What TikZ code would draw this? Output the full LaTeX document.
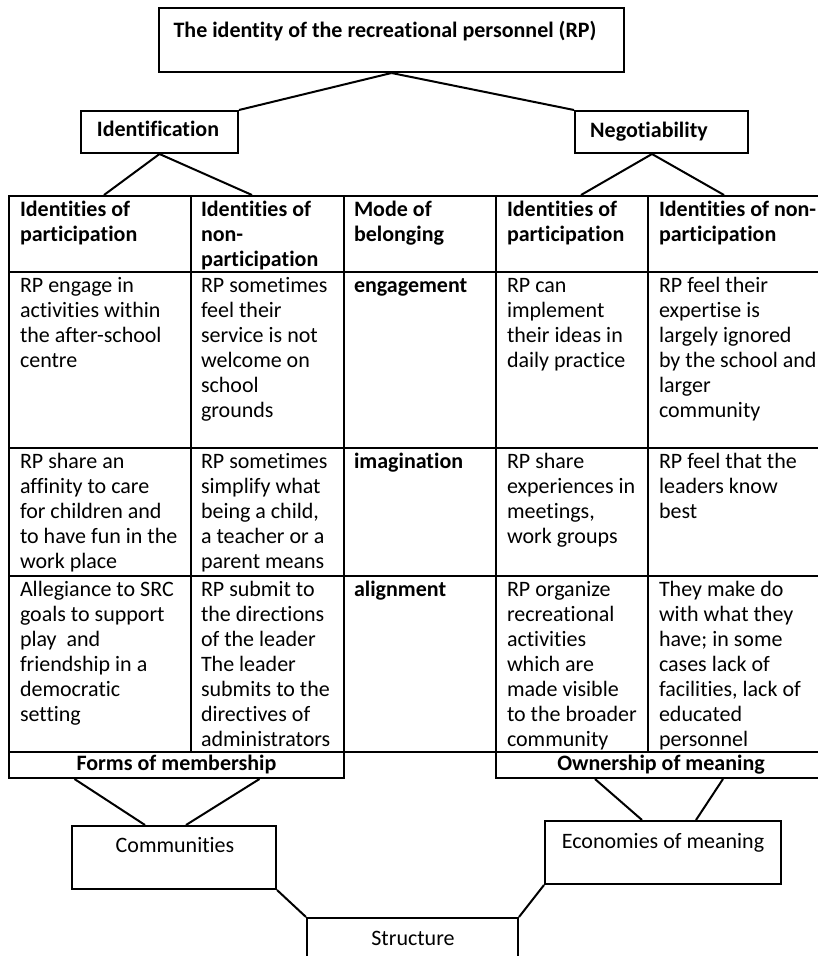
\documentclass[tikz,border=0pt]{standalone}
\usepackage{fontspec}
\setmainfont[Ligatures=NoCommon]{Carlito}
\newcommand{\fst}{\rule{0pt}{17pt}}
\begin{document}
\begin{tikzpicture}[x=1pt,y=-1pt,
  line width=2pt,
  txt/.style={font=\fontsize{22}{25}\selectfont, inner sep=0pt},
  btxt/.style={font=\fontsize{22}{25}\selectfont\bfseries, inner sep=0pt},
  box/.style={draw, line width=2pt, inner sep=0pt},
  cell/.style={draw, line width=2pt, inner sep=0pt, anchor=north west},
  celltext/.style={font=\fontsize{22}{25}\selectfont, inner sep=0pt, anchor=north west, align=left},
  bcelltext/.style={font=\fontsize{22}{25}\selectfont\bfseries, inner sep=0pt, anchor=north west, align=left}
]
\clip (0,0) rectangle (818,956);
\fill[white] (0,0) rectangle (818,956);

% top boxes
\node[box, minimum width=465pt, minimum height=64pt] (title) at (391.5,40) {};
\node[btxt, anchor=base] (titletext) at (385,37) {The identity of the recreational personnel (RP)};
\node[box, minimum width=157pt, minimum height=42pt] (ident) at (159.5,132) {};
\node[btxt, anchor=base] (identtext) at (158,136.7) {Identification};
\node[box, minimum width=173pt, minimum height=42pt] (negot) at (661.5,132) {};
\node[btxt, anchor=base] (negottext) at (649,137.7) {Negotiability};

\draw (title.south) -- (ident.north east);
\draw (title.south) -- (negot.north west);

% table cells
% header row
\node[cell, minimum width=182pt, minimum height=76pt] (h1) at (8,195) {};
\node[cell, minimum width=153pt, minimum height=76pt] (h2) at (190,195) {};
\node[cell, minimum width=151.5pt, minimum height=76pt] (h3) at (343,195) {};
\node[cell, minimum width=152.5pt, minimum height=76pt] (h4) at (494.5,195) {};
\node[cell, minimum width=183pt, minimum height=76pt] (h5) at (647,195) {};
% row 1
\node[cell, minimum width=182pt, minimum height=176pt] (a1) at (8,271) {};
\node[cell, minimum width=153pt, minimum height=176pt] (a2) at (190,271) {};
\node[cell, minimum width=151.5pt, minimum height=176pt] (a3) at (343,271) {};
\node[cell, minimum width=152.5pt, minimum height=176pt] (a4) at (494.5,271) {};
\node[cell, minimum width=183pt, minimum height=176pt] (a5) at (647,271) {};
% row 2
\node[cell, minimum width=182pt, minimum height=128pt] (b1) at (8,447) {};
\node[cell, minimum width=153pt, minimum height=128pt] (b2) at (190,447) {};
\node[cell, minimum width=151.5pt, minimum height=128pt] (b3) at (343,447) {};
\node[cell, minimum width=152.5pt, minimum height=128pt] (b4) at (494.5,447) {};
\node[cell, minimum width=183pt, minimum height=128pt] (b5) at (647,447) {};
% row 3
\node[cell, minimum width=182pt, minimum height=176pt] (c1) at (8,575) {};
\node[cell, minimum width=153pt, minimum height=176pt] (c2) at (190,575) {};
\node[cell, minimum width=151.5pt, minimum height=176pt] (c3) at (343,575) {};
\node[cell, minimum width=152.5pt, minimum height=176pt] (c4) at (494.5,575) {};
\node[cell, minimum width=183pt, minimum height=176pt] (c5) at (647,575) {};
% footer
\node[box, anchor=north west, minimum width=335pt, minimum height=26pt, font=\fontsize{22}{25}\selectfont\bfseries] (forms) at (8,751) {Forms of membership};
\node[box, anchor=north west, minimum width=331pt, minimum height=26pt, font=\fontsize{22}{25}\selectfont\bfseries] (owner) at (494.5,751) {Ownership of meaning};

% header texts
\node[bcelltext] (th1) at (19,198.5) {\fst Identities of\\participation};
\node[bcelltext] (th2) at (200,198.5) {\fst Identities of\\non-\\participation};
\node[bcelltext] (th3) at (353,198.5) {\fst Mode of\\belonging};
\node[bcelltext] (th4) at (506,198.5) {\fst Identities of\\participation};
\node[bcelltext] (th5) at (658,198.5) {\fst Identities of non-\\participation};
% row 1 texts
\node[celltext] (ta1) at (19,274.5) {\fst RP engage in\\activities within\\the after-school\\centre};
\node[celltext] (ta2) at (200,274.5) {\fst RP sometimes\\feel their\\service is not\\welcome on\\school\\grounds};
\node[bcelltext] (ta3) at (353,274.5) {\fst engagement};
\node[celltext] (ta4) at (506,274.5) {\fst RP can\\implement\\their ideas in\\daily practice};
\node[celltext] (ta5) at (658,274.5) {\fst RP feel their\\expertise is\\largely ignored\\by the school and\\larger\\community};
% row 2 texts
\node[celltext] (tb1) at (19,450.5) {\fst RP share an\\affinity to care\\for children and\\to have fun in the\\work place};
\node[celltext] (tb2) at (200,450.5) {\fst RP sometimes\\simplify what\\being a child,\\a teacher or a\\parent means};
\node[bcelltext] (tb3) at (353,450.5) {\fst imagination};
\node[celltext] (tb4) at (506,450.5) {\fst RP share\\experiences in\\meetings,\\work groups};
\node[celltext] (tb5) at (658,450.5) {\fst RP feel that the\\leaders know\\best};
% row 3 texts
\node[celltext] (tc1) at (19,578.5) {\fst Allegiance to SRC\\goals to support\\play~ and\\friendship in a\\democratic\\setting};
\node[celltext] (tc2) at (200,578.5) {\fst RP submit to\\the directions\\of the leader\\The leader\\submits to the\\directives of\\administrators};
\node[bcelltext] (tc3) at (353,578.5) {\fst alignment};
\node[celltext] (tc4) at (506,578.5) {\fst RP organize\\recreational\\activities\\which are\\made visible\\to the broader\\community};
\node[celltext] (tc5) at (658,578.5) {\fst They make do\\with what they\\have; in some\\cases lack of\\facilities, lack of\\educated\\personnel};

% connectors from top boxes to table
\coordinate (tA) at (104,195);
\coordinate (tB) at (252,195);
\coordinate (tC) at (581,195);
\coordinate (tD) at (724,195);
\draw (ident.south) -- (tA);
\draw (ident.south) -- (tB);
\draw ([xshift=-9.5pt]negot.south) -- (tC);
\draw ([xshift=-9.5pt]negot.south) -- (tD);

% bottom boxes
\node[box, minimum width=204pt, minimum height=63pt] (comm) at (174,857.5) {};
\node[txt, anchor=base] (commtext) at (175,852.7) {Communities};
\node[box, minimum width=236pt, minimum height=63pt] (econ) at (663,852.5) {};
\node[txt, anchor=base] (econtext) at (663,848.7) {Economies of meaning};
\node[box, minimum width=211pt, minimum height=82pt] (struct) at (412.5,959) {};
\node[txt, anchor=base] (structtext) at (413,945) {Structure};

\draw ([xshift=-102pt]forms.south) -- ([xshift=-29pt]comm.north);
\draw ([xshift=83pt]forms.south) -- ([xshift=12pt]comm.north);
\draw ([xshift=-66pt]owner.south) -- ([xshift=-21pt]econ.north);
\draw ([xshift=62pt]owner.south) -- ([xshift=33pt]econ.north);
\draw (comm.south east) -- (struct.north west);
\draw (econ.south west) -- (struct.north east);
\end{tikzpicture}
\end{document}
